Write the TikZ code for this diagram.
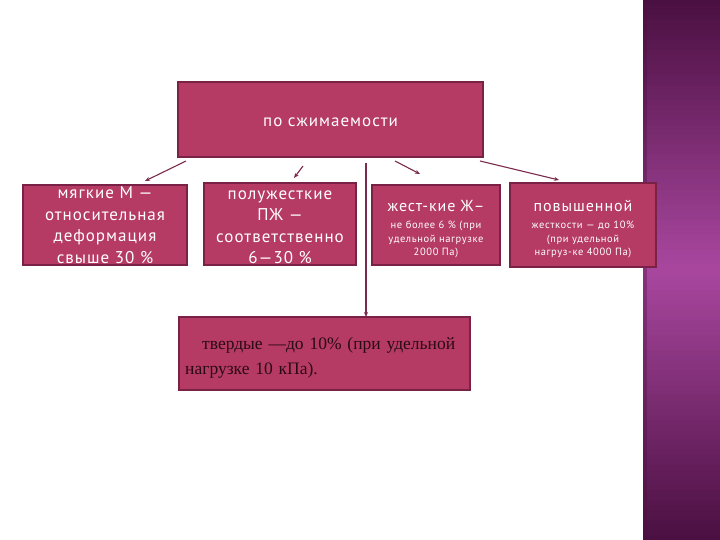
\documentclass[tikz,border=0pt]{standalone}
\usepackage{fontspec}
\setmainfont{Liberation Serif}
\newfontfamily\boxfont[LetterSpace=6]{PT Sans}
\usetikzlibrary{arrows.meta,calc}
\definecolor{boxfill}{HTML}{B53A64}
\definecolor{boxedge}{HTML}{7A2245}
\definecolor{arrcol}{HTML}{7A2A4C}
\definecolor{bartop}{HTML}{4A0F41}
\definecolor{barmid}{HTML}{A9479F}
\definecolor{barbot}{HTML}{521348}
\definecolor{bartext}{HTML}{2A0A14}
\tikzset{
  box/.style={draw=boxedge, line width=1.6pt, fill=boxfill, inner sep=0pt},
  boxtext/.style={inner sep=0pt, text=white, align=center, font=\boxfont},
  arr/.style={draw=arrcol, line width=1.1pt, -{Stealth[length=5pt,width=4pt]}},
}
\begin{document}
\begin{tikzpicture}[x=1pt,y=-1pt]
\useasboundingbox (0,0) rectangle (720,540);
\fill[white] (0,0) rectangle (720,540);
% right bar, gradient in strips
\foreach \i in {0,...,107}{
  \pgfmathsetmacro{\t}{100*(1-abs(5*\i+2.5-270)/270)}
  \fill[barmid!\t!bartop] (643,5*\i) rectangle (720,5*\i+5.3);
}
\fill[bartop, opacity=0.35] (643,0) rectangle (647,540);
% boxes
\node[box, minimum width=305pt, minimum height=75pt] (top) at (330.5,119.5) {};
\node[boxtext, font=\boxfont\fontsize{17}{18}\selectfont] (toptext) at ($(top.center)+(0,3)$) {по сжимаемости};
\node[box, minimum width=164pt, minimum height=80pt] (soft) at (105,225) {};
\node[boxtext, font=\boxfont\fontsize{17}{21.5}\selectfont] (softtext) at ($(soft.center)+(0,0)$) {мягкие М —\\относительная\\деформация\\свыше 30 \%};
\node[box, minimum width=152pt, minimum height=82pt] (semi) at (280,224) {};
\node[boxtext, font=\boxfont\fontsize{17}{21.5}\selectfont] (semitext) at ($(semi.center)+(0,3)$) {полужесткие\\ПЖ —\\соответственно\\6—30 \%};
\node[box, minimum width=128pt, minimum height=80pt] (hard) at (436,225) {};
\node[boxtext, font=\boxfont\fontsize{10.5}{13.5}\selectfont] (hardtext) at ($(hard.center)+(0,4)$) {{\fontsize{16}{18}\selectfont жест-кие Ж–}\\[4pt]не более 6 \% (при\\удельной нагрузке\\2000 Па)};
\node[box, minimum width=146pt, minimum height=84pt] (high) at (583,225) {};
\node[boxtext, font=\boxfont\fontsize{10.5}{13.5}\selectfont] (hightext) at ($(high.center)+(0,4)$) {{\fontsize{16}{18}\selectfont повышенной}\\[4pt]жесткости — до 10\%\\(при удельной\\нагруз-ке 4000 Па)};
\node[box, minimum width=291pt, minimum height=73pt] (solid) at (324.5,353.5) {};
\node[anchor=north west, text=bartext, align=left, inner sep=0pt, font=\fontsize{17.5}{25}\selectfont, text width=285pt] (solidtext) at (185,337) {\hspace*{17pt}твердые —до 10\% (при удельной\\нагрузке 10 кПа).};
% connectors
\coordinate (a1) at (186,161); \coordinate (b1) at (145,181);
\coordinate (a2) at (303,166); \coordinate (b2) at (294,178);
\coordinate (a3) at (395,161); \coordinate (b3) at (420,174);
\coordinate (a4) at (480,161); \coordinate (b4) at (559,180);
\coordinate (a5) at (366,163); \coordinate (b5) at (366,317);
\draw[arr] (a1) -- (b1);
\draw[arr] (a2) -- (b2);
\draw[arr] (a3) -- (b3);
\draw[arr] (a4) -- (b4);
\draw[arr] (a5) -- (b5);
\end{tikzpicture}
\end{document}
